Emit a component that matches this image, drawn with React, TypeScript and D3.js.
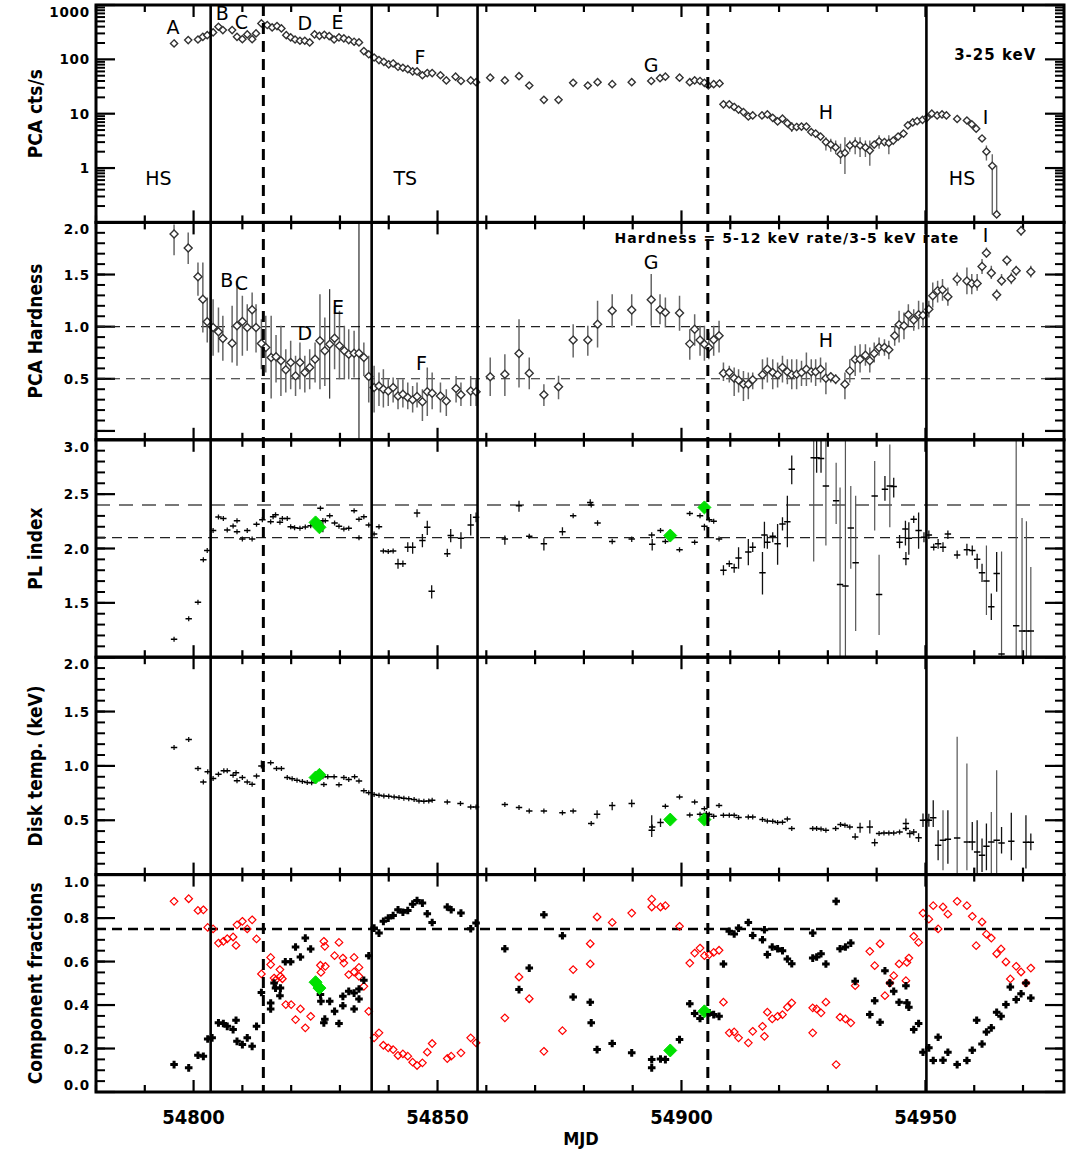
import React from 'react';
import * as d3 from 'd3';

// ---------- DATA ----------
// Panel 1: PCA count rate (3-25 keV) [MJD, cts/s]
const ctsRate: [number, number][] = [
  [54796.0,196],[54798.9,226],[54800.9,232],[54801.9,260],[54802.8,279],[54804.0,313],[54805.1,398],[54806.0,345],
  [54807.9,345],[54808.9,260],[54810.0,235],[54811.0,287],[54812.0,235],[54812.8,300],[54813.9,459],[54815.1,428],
  [54816.1,387],[54817.1,409],[54818.0,371],[54819.0,279],[54819.9,253],[54820.8,232],[54821.8,220],[54822.8,220],
  [54823.8,205],[54824.8,287],[54825.8,271],[54826.8,283],[54827.8,268],[54828.8,232],[54829.8,253],[54830.8,243],
  [54831.8,226],[54832.9,211],[54833.9,205],[54834.9,142],[54835.9,124],[54837.0,108],[54838.0,97],[54839.0,90],
  [54840.0,81],[54840.9,84],[54841.9,73],[54842.9,70],[54843.9,66],[54844.9,60],[54845.8,60],[54846.9,51],
  [54847.9,56],[54848.9,56],[54850.6,51],[54851.8,41],[54853.7,48],[54854.8,40],[54856.8,41],[54857.9,38],
  [54860.8,46],[54863.8,41],[54866.7,49],[54868.8,33],[54871.8,18],[54874.8,18],[54877.8,37],[54880.8,33],
  [54882.8,38],[54885.8,35],[54889.8,38],[54893.8,40],[54895.6,45],[54896.7,48],[54899.6,46],[54901.7,38],
  [54902.7,41],[54903.8,40],[54904.7,37],[54905.5,33],[54906.6,35],[54907.8,36],[54908.6,14.9],[54909.8,14.9],
  [54910.8,13.3],[54911.7,11.9],[54912.7,10.7],[54913.7,8.9],[54914.6,9.3],[54916.5,9.3],[54917.6,9.7],[54918.7,8.4],
  [54919.7,7.2],[54920.7,8.1],[54921.7,6.7],[54922.6,5.7],[54923.6,5.7],[54924.6,5.8],[54925.6,5.8],[54926.6,4.6],
  [54927.5,4.3],[54928.5,3.8],[54929.6,3.0],[54930.6,2.7],[54931.6,2.4],[54932.6,1.8],[54933.5,1.9],[54934.5,2.6],
  [54935.6,2.8],[54936.6,2.6],[54937.7,2.4],[54938.6,2.1],[54939.5,2.7],[54940.5,3.1],[54941.6,3.0],[54942.5,2.9],
  [54943.4,3.2],[54944.4,3.8],[54945.5,4.3],[54946.4,6.1],[54947.4,6.9],[54948.3,7.3],[54949.4,7.7],[54950.3,8.4],
  [54951.3,10],[54952.4,9.3],[54953.4,9.7],[54954.3,9.3],[54956.5,8.0],[54958.5,7.5],[54959.5,6.4],[54960.4,5.3],
  [54961.6,3.5],[54962.5,2.0],[54963.7,1.1],[54964.6,0.14],
];
// Panel 1 error bars [MJD, low, high]
const ctsErr: [number, number, number][] = [
  [54922.6,4.6,7.0],[54929.6,2.1,3.7],[54930.6,2.0,3.45],[54931.6,1.8,3.2],[54932.6,1.19,2.8],[54933.5,0.78,3.7],
  [54934.5,2.0,3.2],[54935.6,1.8,3.7],[54936.6,1.6,3.7],[54937.7,1.6,3.2],[54938.6,1.1,3.2],[54940.5,2.26,4.0],
  [54942.5,1.8,4.0],[54962.5,1.37,2.6],[54963.7,0.14,1.8],[54964.6,0.13,1.1],
];

// Panel 2: PCA hardness [MJD, value, low, high]
const hardness: [number, number, number, number][] = [
  [54796.0,1.888,1.686,1.98],[54798.9,1.754,1.60,1.904],[54800.9,1.479,1.296,1.616],[54801.9,1.264,0.944,1.616],
  [54802.8,1.047,0.848,1.28],[54804.0,0.992,0.72,1.264],[54805.1,0.951,0.752,1.184],[54806.0,0.887,0.672,1.104],
  [54807.9,0.842,0.656,1.2],[54808.9,1.008,0.624,1.44],[54810.0,1.05,0.72,1.296],[54811.0,0.992,0.768,1.216],
  [54812.0,1.162,0.992,1.328],[54812.8,0.992,0.752,1.216],[54813.9,0.839,0.592,1.072],[54814.8,0.80,0.56,1.104],
  [54815.9,0.704,0.31,1.104],[54816.9,0.711,0.464,0.92],[54817.9,0.672,0.336,1.008],[54818.9,0.586,0.368,0.784],
  [54819.9,0.656,0.40,0.864],[54820.9,0.528,0.336,0.72],[54821.8,0.656,0.40,0.848],[54822.8,0.56,0.368,0.72],
  [54823.8,0.608,0.40,0.784],[54824.9,0.688,0.464,0.848],[54825.9,0.864,0.40,1.312],[54826.9,0.768,0.432,1.088],
  [54827.9,0.832,0.31,1.36],[54828.9,0.89,0.592,1.2],[54829.9,0.816,0.496,1.152],[54830.9,0.768,0.496,1.008],
  [54831.8,0.736,0.496,0.976],[54832.9,0.746,0.512,0.96],[54833.9,0.746,-0.3,2.3],[54834.9,0.704,0.528,0.848],
  [54835.9,0.522,0.272,0.72],[54837.0,0.416,0.176,0.624],[54838.0,0.432,0.24,0.56],[54838.9,0.40,0.224,0.592],
  [54839.9,0.384,0.24,0.496],[54840.9,0.416,0.272,0.512],[54841.9,0.336,0.208,0.496],[54842.9,0.352,0.224,0.496],
  [54843.9,0.32,0.208,0.464],[54844.9,0.298,0.176,0.432],[54845.8,0.33,0.224,0.464],[54846.9,0.279,0.096,0.40],
  [54847.9,0.375,0.144,0.608],[54848.9,0.362,0.208,0.56],[54850.6,0.336,0.176,0.464],[54851.8,0.288,0.144,0.40],
  [54853.8,0.407,0.272,0.528],[54854.8,0.346,0.24,0.464],[54856.8,0.384,0.24,0.528],[54857.9,0.375,0.24,0.496],
  [54860.8,0.519,0.336,0.704],[54863.8,0.544,0.336,0.736],[54866.7,0.743,0.416,1.072],[54868.8,0.554,0.40,0.704],
  [54871.8,0.346,0.24,0.448],[54874.8,0.423,0.304,0.53],[54877.8,0.871,0.704,1.024],[54880.8,0.871,0.72,1.008],
  [54882.8,1.024,0.80,1.248],[54885.8,1.152,0.992,1.312],[54889.8,1.159,1.008,1.312],[54893.8,1.258,1.008,1.504],
  [54895.6,1.162,1.024,1.312],[54896.7,1.136,0.992,1.28],[54899.6,1.13,0.96,1.296],[54901.7,0.835,0.682,0.976],
  [54902.7,0.976,0.816,1.12],[54903.8,0.871,0.72,1.008],[54904.7,0.832,0.672,1.008],[54905.6,0.80,0.688,0.944],
  [54906.6,0.874,0.72,1.008],[54907.7,0.912,0.752,1.056],[54908.6,0.554,0.48,0.656],[54909.8,0.56,0.464,0.624],
  [54910.8,0.506,0.336,0.608],[54911.7,0.487,0.368,0.592],[54912.7,0.448,0.288,0.576],[54913.7,0.448,0.304,0.56],
  [54914.6,0.49,0.40,0.56],[54916.6,0.538,0.40,0.688],[54917.6,0.592,0.464,0.704],[54918.7,0.56,0.40,0.688],
  [54919.7,0.538,0.416,0.656],[54920.7,0.608,0.464,0.72],[54921.7,0.567,0.448,0.688],[54922.6,0.538,0.40,0.688],
  [54923.6,0.544,0.40,0.688],[54924.6,0.56,0.432,0.672],[54925.6,0.592,0.432,0.752],[54926.6,0.567,0.464,0.688],
  [54927.5,0.567,0.432,0.688],[54928.5,0.592,0.464,0.704],[54929.6,0.506,0.352,0.656],[54930.6,0.519,0.464,0.56],
  [54931.6,0.496,0.448,0.544],[54933.5,0.448,0.304,0.56],[54934.5,0.576,0.464,0.688],[54935.6,0.688,0.528,0.816],
  [54936.6,0.688,0.56,0.832],[54937.7,0.727,0.624,0.832],[54938.6,0.672,0.56,0.80],[54939.5,0.743,0.656,0.848],
  [54940.5,0.80,0.72,0.896],[54941.6,0.80,0.72,0.88],[54942.5,0.778,0.688,0.864],[54943.7,0.912,0.816,1.008],
  [54944.6,1.018,0.848,1.152],[54945.6,1.008,0.88,1.136],[54946.5,1.114,1.008,1.216],[54947.6,1.063,0.96,1.168],
  [54948.6,1.114,0.976,1.248],[54949.5,1.11,0.992,1.232],[54950.7,1.168,1.088,1.248],[54951.5,1.296,1.184,1.424],
  [54952.5,1.344,1.232,1.44],[54953.5,1.354,1.248,1.456],[54954.6,1.287,1.20,1.376],[54956.5,1.456,1.392,1.52],
  [54958.5,1.437,1.312,1.568],[54959.5,1.415,1.312,1.504],[54960.6,1.415,1.344,1.504],[54961.6,1.578,1.504,1.648],
  [54962.5,1.706,1.664,1.76],[54963.5,1.514,1.456,1.584],[54964.6,1.306,1.248,1.36],[54965.6,1.44,1.392,1.504],
  [54966.7,1.638,1.584,1.68],[54967.6,1.462,1.408,1.52],[54968.6,1.536,1.488,1.584],[54969.6,1.92,1.872,1.968],
  [54971.6,1.526,1.472,1.584],
];

// Panel 3: power-law index [MJD, value, low, high]
const plIndex: [number, number, number, number][] = [
  [54796.0,1.165,1.165,1.165],[54799.0,1.353,1.353,1.353],[54800.9,1.505,1.505,1.505],[54802.0,1.896,1.896,1.896],
  [54802.8,1.982,1.982,1.982],[54804.0,2.165,2.165,2.165],[54805.1,2.29,2.29,2.29],[54806.1,2.277,2.277,2.277],
  [54806.9,2.171,2.171,2.171],[54808.1,2.207,2.207,2.207],[54808.9,2.256,2.256,2.256],[54808.9,2.155,2.155,2.155],
  [54810.0,2.088,2.088,2.088],[54811.0,2.165,2.165,2.165],[54812.0,2.088,2.088,2.088],[54812.9,2.222,2.222,2.222],
  [54814.1,2.265,2.265,2.265],[54815.8,2.247,2.247,2.247],[54816.3,2.293,2.293,2.293],[54816.8,2.311,2.311,2.311],
  [54817.7,2.241,2.241,2.241],[54818.2,2.277,2.277,2.277],[54819.2,2.277,2.277,2.277],[54819.9,2.201,2.201,2.201],
  [54820.7,2.192,2.192,2.192],[54821.8,2.186,2.186,2.186],[54822.9,2.198,2.198,2.198],[54824.0,2.21,2.21,2.21],
  [54826.0,2.37,2.37,2.37],[54826.5,2.255,2.15,2.28],[54827.0,2.255,2.255,2.255],[54827.9,2.302,2.302,2.302],
  [54828.9,2.234,2.234,2.234],[54829.8,2.204,2.204,2.204],[54830.8,2.18,2.18,2.18],[54831.8,2.186,2.186,2.186],
  [54832.9,2.347,2.347,2.347],[54833.9,2.1,2.1,2.1],[54833.9,2.27,2.27,2.27],[54834.9,2.293,2.293,2.293],
  [54835.9,2.216,2.216,2.216],[54837.0,2.134,2.134,2.134],[54838.0,2.201,2.201,2.201],[54838.9,1.976,1.976,1.976],
  [54839.9,1.973,1.973,1.973],[54840.9,1.976,1.976,1.976],[54841.9,1.86,1.814,1.906],[54842.9,1.86,1.829,1.89],
  [54843.9,2.012,1.967,2.058],[54844.9,2.012,1.951,2.058],[54845.8,2.326,2.287,2.362],[54846.9,2.073,2.012,2.134],
  [54847.9,2.195,2.125,2.256],[54848.8,1.607,1.54,1.662],[54852.0,1.951,1.921,1.997],[54852.7,2.119,2.058,2.18],
  [54854.8,2.094,1.997,2.149],[54856.8,2.216,2.119,2.317],[54857.9,2.287,2.241,2.332],
  [54863.8,2.088,2.034,2.119],[54866.7,2.393,2.338,2.439],[54868.8,2.113,2.113,2.113],[54871.8,2.043,1.982,2.095],
  [54875.6,2.155,2.119,2.195],[54877.8,2.302,2.302,2.302],[54881.3,2.424,2.393,2.454],[54881.5,2.40,2.40,2.40],
  [54882.8,2.235,2.21,2.26],[54885.8,2.064,2.04,2.09],[54889.8,2.088,2.06,2.11],[54893.9,2.125,2.095,2.149],
  [54894.0,2.04,1.982,2.088],[54895.7,2.165,2.165,2.165],[54896.7,2.064,2.064,2.064],[54899.6,1.988,1.988,1.988],
  [54901.7,2.323,2.323,2.323],[54902.7,2.058,2.058,2.058],[54903.8,2.302,2.302,2.302],[54904.7,2.204,2.165,2.226],
  [54905.7,2.265,2.265,2.265],[54906.6,2.25,2.25,2.25],[54907.7,2.088,2.088,2.088],[54908.6,1.799,1.753,1.845],
  [54909.8,1.86,1.829,1.89],[54910.8,1.823,1.778,1.86],[54911.7,1.912,1.814,2.012],[54913.7,1.967,1.845,2.088],
  [54914.6,2.012,1.967,2.058],[54916.6,1.777,1.577,1.967],[54917.0,2.125,2.003,2.247],[54917.6,2.058,1.997,2.119],
  [54918.7,2.113,2.058,2.149],[54919.7,2.043,1.851,2.226],[54920.7,2.225,2.165,2.287],[54921.7,2.247,2.012,2.485],
  [54922.6,2.728,2.591,2.856],[54927.1,2.835,1.881,3.1],[54927.7,2.835,2.698,3.1],[54928.6,2.829,2.698,3.1],
  [54929.6,2.576,2.028,3.1],[54931.7,2.44,2.226,2.789],[54932.5,1.668,0.9,2.561],[54933.6,1.656,0.9,3.1],
  [54934.7,2.189,1.814,2.576],[54935.7,1.869,1.241,2.485],[54939.6,2.484,2.165,2.804],[54940.5,1.577,1.205,1.942],
  [54941.7,2.545,2.439,2.667],[54942.7,2.576,2.195,2.957],[54943.5,2.57,2.47,2.652],[54944.7,2.058,2.003,2.125],
  [54945.9,2.18,2.028,2.256],[54946.0,1.906,1.845,1.967],[54946.6,2.094,1.942,2.241],[54947.6,2.27,2.235,2.302],
  [54948.6,2.165,1.997,2.332],[54949.7,2.103,2.058,2.149],[54950.7,2.125,2.088,2.165],[54951.7,2.012,1.982,2.043],
  [54952.6,2.043,1.997,2.088],[54953.6,2.012,1.967,2.058],[54954.6,2.134,2.088,2.165],[54956.5,1.941,1.906,1.982],
  [54958.5,1.988,1.936,2.043],[54959.6,1.982,1.936,2.028],[54960.6,1.9,1.814,1.951],[54961.6,1.777,1.692,1.86],
  [54962.5,1.701,1.388,2.028],[54963.5,1.464,1.342,1.586],[54964.6,1.771,1.601,1.967],[54965.6,1.03,0.9,1.973],
  [54968.6,1.29,0.9,3.1],[54969.8,1.24,0.9,2.281],[54970.7,1.24,0.9,2.25],[54971.6,1.24,0.9,1.829],
];

// Panel 4: disk temperature (keV) [MJD, value, low, high]
const diskTemp: [number, number, number, number][] = [
  [54796.0,1.17,1.17,1.17],[54799.0,1.244,1.244,1.244],[54800.9,0.976,0.976,0.976],[54802.0,0.853,0.853,0.853],
  [54802.9,0.946,0.946,0.946],[54804.0,0.884,0.884,0.884],[54805.1,0.924,0.924,0.924],[54806.2,0.955,0.955,0.955],
  [54806.9,0.955,0.955,0.955],[54808.1,0.915,0.915,0.915],[54808.7,0.936,0.936,0.936],[54808.9,0.863,0.863,0.863],
  [54810.0,0.893,0.893,0.893],[54811.0,0.853,0.853,0.853],[54812.0,0.832,0.832,0.832],[54812.9,0.906,0.906,0.906],
  [54813.9,0.998,0.99,1.05],[54815.8,1.029,1.029,1.029],[54817.0,0.976,0.976,0.976],[54818.0,0.976,0.976,0.976],
  [54819.2,0.893,0.893,0.893],[54820.2,0.881,0.881,0.881],[54821.2,0.869,0.869,0.869],[54822.3,0.857,0.857,0.857],
  [54823.3,0.847,0.847,0.847],[54824.2,0.844,0.844,0.844],[54826.5,0.9,0.9,0.9],[54826.7,0.829,0.829,0.829],
  [54827.5,0.9,0.9,0.9],[54828.8,0.9,0.9,0.9],[54829.8,0.826,0.826,0.826],[54830.8,0.893,0.893,0.893],
  [54831.8,0.875,0.875,0.875],[54833.0,0.9,0.9,0.9],[54833.9,0.86,0.86,0.86],[54834.9,0.771,0.771,0.771],
  [54835.9,0.752,0.752,0.752],[54837.0,0.737,0.737,0.737],[54838.0,0.731,0.731,0.731],[54839.0,0.724,0.724,0.724],
  [54840.0,0.721,0.721,0.721],[54841.1,0.715,0.715,0.715],[54842.1,0.709,0.709,0.709],[54843.1,0.703,0.703,0.703],
  [54844.1,0.697,0.697,0.697],[54845.2,0.691,0.691,0.691],[54846.2,0.678,0.678,0.678],[54847.2,0.675,0.675,0.675],
  [54848.2,0.678,0.678,0.678],[54848.9,0.684,0.684,0.684],[54852.0,0.669,0.669,0.669],[54854.7,0.654,0.654,0.654],
  [54856.8,0.623,0.623,0.623],[54857.9,0.623,0.623,0.623],
  [54863.8,0.645,0.645,0.645],[54866.7,0.617,0.617,0.617],[54868.8,0.586,0.586,0.586],[54871.8,0.586,0.586,0.586],
  [54875.6,0.568,0.568,0.568],[54877.8,0.586,0.586,0.586],[54881.5,0.469,0.45,0.49],[54882.7,0.555,0.516,0.592],
  [54885.8,0.635,0.592,0.669],[54889.8,0.654,0.62,0.69],[54893.9,0.408,0.347,0.546],[54894.0,0.439,0.439,0.439],
  [54895.7,0.479,0.439,0.516],[54896.7,0.629,0.629,0.629],[54899.6,0.715,0.715,0.715],[54901.7,0.549,0.549,0.549],
  [54902.7,0.669,0.669,0.669],[54903.8,0.555,0.555,0.555],[54904.7,0.605,0.605,0.605],[54905.1,0.562,0.562,0.562],
  [54905.7,0.555,0.555,0.555],[54906.6,0.537,0.537,0.537],[54907.7,0.635,0.635,0.635],[54908.6,0.546,0.546,0.546],
  [54909.8,0.546,0.546,0.546],[54910.8,0.546,0.546,0.546],[54911.7,0.525,0.525,0.525],[54913.7,0.531,0.531,0.531],
  [54914.6,0.531,0.531,0.531],[54916.6,0.506,0.506,0.506],[54917.6,0.494,0.494,0.494],[54918.7,0.491,0.491,0.491],
  [54919.7,0.479,0.479,0.479],[54920.7,0.482,0.482,0.482],[54921.7,0.512,0.512,0.512],[54922.6,0.423,0.423,0.423],
  [54926.9,0.423,0.423,0.423],[54927.7,0.423,0.423,0.423],[54928.6,0.42,0.42,0.42],[54929.6,0.408,0.408,0.408],
  [54931.6,0.423,0.423,0.423],[54932.6,0.46,0.46,0.46],[54933.5,0.454,0.454,0.454],[54934.5,0.439,0.439,0.439],
  [54935.6,0.347,0.32,0.38],[54936.6,0.433,0.384,0.476],[54938.6,0.439,0.377,0.5],[54939.6,0.294,0.26,0.33],
  [54940.5,0.377,0.377,0.377],[54941.5,0.383,0.383,0.383],[54942.5,0.383,0.383,0.383],[54943.5,0.383,0.383,0.383],
  [54944.7,0.393,0.393,0.393],[54946.0,0.469,0.408,0.516],[54946.0,0.423,0.423,0.423],[54946.8,0.377,0.34,0.41],
  [54947.6,0.393,0.36,0.42],[54948.6,0.34,0.3,0.38],[54949.5,0.5,0.439,0.562],[54950.3,0.5,0.5,0.5],
  [54950.7,0.5,0.44,0.56],[54951.6,0.522,0.439,0.684],[54952.6,0.27,0.131,0.408],[54953.6,0.316,0.039,0.592],
  [54954.6,0.325,0.1,0.592],[54956.5,0.337,0.009,1.268],[54958.5,0.3,0.039,1.022],[54959.6,0.3,0.224,0.485],
  [54960.6,0.208,0.009,0.5],[54961.6,0.178,0.024,0.331],[54962.5,0.26,0.039,0.469],[54963.5,0.3,0.009,0.577],
  [54964.6,0.316,0.009,0.961],[54965.6,0.291,0.193,0.439],[54967.6,0.307,0.131,0.568],[54970.6,0.298,0.055,0.546],
  [54971.6,0.298,0.224,0.377],
];

// Panel 5: component fractions [MJD, fraction]
const fracDisk: [number, number][] = [ // red open diamonds
  [54796.0,0.877],[54799.0,0.889],[54800.9,0.835],[54802.0,0.838],[54802.9,0.757],[54804.0,0.75],[54805.1,0.685],
  [54806.1,0.693],[54806.9,0.705],[54808.1,0.713],[54808.7,0.674],[54808.9,0.769],[54810.0,0.785],[54811.0,0.75],
  [54812.0,0.792],[54812.9,0.704],[54813.9,0.543],[54815.8,0.619],[54815.8,0.586],[54816.5,0.524],[54816.8,0.514],
  [54817.7,0.563],[54817.8,0.532],[54818.2,0.521],[54818.9,0.402],[54820.0,0.402],[54820.9,0.333],[54821.9,0.382],
  [54822.9,0.295],[54824.0,0.348],[54826.0,0.583],[54826.1,0.55],[54826.7,0.693],[54826.9,0.67],[54827.0,0.578],
  [54828.9,0.627],[54829.8,0.688],[54830.6,0.616],[54830.8,0.593],[54831.8,0.54],[54832.9,0.619],[54832.9,0.552],
  [54833.9,0.573],[54833.9,0.532],[54834.9,0.486],[54835.9,0.371],[54837.0,0.249],[54838.0,0.272],[54838.9,0.215],
  [54839.9,0.203],[54840.9,0.195],[54841.9,0.168],[54842.9,0.175],[54843.9,0.165],[54844.9,0.137],[54845.8,0.122],
  [54846.9,0.134],[54847.9,0.183],[54848.9,0.223],[54852.0,0.154],[54852.8,0.165],[54854.8,0.18],[54856.8,0.249],
  [54857.9,0.226],
  [54863.8,0.341],[54866.7,0.529],[54868.8,0.429],[54871.8,0.187],[54875.6,0.282],[54877.8,0.563],[54881.3,0.682],
  [54881.3,0.589],[54882.7,0.805],[54885.8,0.78],[54889.8,0.823],[54893.9,0.887],[54893.9,0.851],[54895.7,0.851],
  [54896.7,0.857],[54899.6,0.762],[54901.7,0.593],[54902.7,0.639],[54903.8,0.662],[54904.7,0.627],[54905.7,0.632],
  [54906.6,0.642],[54907.7,0.652],[54908.6,0.413],[54909.8,0.272],[54910.8,0.276],[54911.7,0.249],[54913.7,0.226],
  [54914.6,0.279],[54916.6,0.302],[54917.0,0.256],[54917.6,0.367],[54918.6,0.336],[54919.7,0.348],[54920.7,0.356],
  [54921.7,0.39],[54922.6,0.41],[54926.9,0.272],[54926.9,0.387],[54927.7,0.382],[54928.6,0.364],[54929.6,0.413],
  [54931.7,0.126],[54932.5,0.344],[54933.6,0.336],[54934.7,0.318],[54935.6,0.489],[54938.6,0.647],[54939.6,0.581],
  [54940.7,0.682],[54941.7,0.443],[54942.7,0.501],[54943.5,0.535],[54944.6,0.589],[54946.0,0.512],[54946.2,0.596],
  [54946.6,0.616],[54947.6,0.716],[54948.6,0.688],[54949.5,0.823],[54950.7,0.795],[54951.6,0.857],[54952.6,0.75],
  [54953.6,0.851],[54954.6,0.818],[54956.5,0.877],[54958.5,0.857],[54959.6,0.808],[54960.4,0.673],[54961.6,0.782],
  [54962.5,0.726],[54963.5,0.708],[54964.6,0.636],[54965.5,0.658],[54966.5,0.598],[54967.4,0.52],[54968.6,0.578],
  [54969.6,0.552],[54970.6,0.501],[54971.6,0.57],
];
const fracPL: [number, number][] = [ // black crosses
  [54796.0,0.126],[54799.0,0.111],[54800.9,0.169],[54802.0,0.164],[54802.9,0.244],[54803.8,0.249],[54805.1,0.318],
  [54806.1,0.315],[54806.9,0.302],[54808.1,0.287],[54808.7,0.33],[54808.9,0.233],[54810.0,0.218],[54811.0,0.249],
  [54812.0,0.21],[54812.9,0.302],[54813.9,0.458],[54815.8,0.409],[54815.8,0.382],[54816.5,0.501],[54816.8,0.478],
  [54817.7,0.443],[54817.8,0.478],[54818.8,0.599],[54819.9,0.599],[54820.9,0.667],[54821.9,0.621],[54822.9,0.708],
  [54824.0,0.658],[54826.0,0.448],[54826.1,0.417],[54826.7,0.318],[54826.9,0.335],[54827.9,0.417],[54828.9,0.371],
  [54829.8,0.315],[54830.6,0.397],[54830.6,0.44],[54831.8,0.463],[54832.9,0.455],[54832.9,0.382],[54833.9,0.428],
  [54833.9,0.474],[54834.9,0.514],[54835.9,0.627],[54837.0,0.754],[54838.0,0.731],[54838.9,0.785],[54839.9,0.8],
  [54840.9,0.812],[54841.9,0.838],[54842.9,0.827],[54843.9,0.835],[54844.9,0.864],[54845.8,0.881],[54846.9,0.869],
  [54847.9,0.82],[54848.9,0.78],[54852.0,0.851],[54852.8,0.838],[54854.8,0.823],[54856.8,0.751],[54857.9,0.777],
  [54863.8,0.659],[54866.7,0.471],[54868.8,0.57],[54871.8,0.815],[54875.6,0.719],[54877.8,0.437],[54881.3,0.413],
  [54881.5,0.318],[54882.7,0.195],[54885.8,0.223],[54889.8,0.18],[54893.9,0.149],[54893.9,0.111],[54895.7,0.152],
  [54896.7,0.149],[54899.6,0.241],[54901.7,0.406],[54902.7,0.361],[54903.8,0.338],[54905.7,0.364],[54906.6,0.356],
  [54907.7,0.348],[54908.6,0.589],[54909.8,0.739],[54910.8,0.727],[54911.7,0.754],[54913.7,0.78],[54914.6,0.72],
  [54916.6,0.7],[54917.0,0.746],[54917.6,0.632],[54918.6,0.667],[54919.7,0.659],[54920.7,0.65],[54921.7,0.612],
  [54922.6,0.59],[54926.9,0.731],[54926.9,0.616],[54927.7,0.621],[54928.6,0.636],[54929.6,0.589],[54931.7,0.877],
  [54932.5,0.659],[54933.6,0.667],[54934.7,0.685],[54935.6,0.509],[54938.6,0.356],[54939.6,0.42],[54940.7,0.321],
  [54941.7,0.558],[54942.7,0.501],[54943.5,0.463],[54944.6,0.413],[54946.0,0.489],[54946.2,0.41],[54946.6,0.39],
  [54947.6,0.287],[54948.6,0.315],[54949.5,0.183],[54950.7,0.203],[54951.6,0.145],[54952.6,0.252],[54953.6,0.146],
  [54954.6,0.183],[54956.5,0.126],[54958.5,0.145],[54959.6,0.192],[54960.5,0.33],[54961.6,0.221],[54962.5,0.276],
  [54963.5,0.295],[54964.6,0.367],[54965.5,0.348],[54966.5,0.402],[54967.4,0.483],[54968.6,0.425],[54969.6,0.452],
  [54970.6,0.501],[54971.6,0.432],
];

// Green diamonds (special observations) [MJD, value]
const greenPL: [number, number][] = [[54825.0,2.24],[54825.8,2.195],[54897.7,2.119],[54904.7,2.378]];
const greenTemp: [number, number][] = [[54825.0,0.893],[54825.8,0.918],[54897.7,0.506],[54904.7,0.506]];
const greenFrac: [number, number][] = [[54825.0,0.505],[54825.8,0.478],[54897.7,0.191],[54904.7,0.371]];

// Transition markers (MJD)
const solidLines = [54803.5, 54836.5, 54858.2, 54950.2];
const dashedLines = [54814.3, 54905.4];

// Labels
const xTickValues = [54800, 54850, 54900, 54950];
const panelTitles = ['PCA cts/s', 'PCA Hardness', 'PL index', 'Disk temp. (keV)', 'Component fractions'];
const ctsLabels: [string, number, number][] = [
  ['A',54795.8,400],['B',54805.9,700],['C',54809.8,490],['D',54822.8,460],['E',54829.5,490],['F',54846.4,110],
  ['G',54893.8,79],['H',54929.6,10.9],['I',54962.3,8.8],['HS',54792.8,0.66],['TS',54843.4,0.66],['HS',54957.5,0.66],
];
const hardLabels: [string, number, number][] = [
  ['B',54806.8,1.448],['C',54809.8,1.416],['D',54822.8,0.939],['E',54829.6,1.19],['F',54846.7,0.652],
  ['G',54893.8,1.623],['H',54929.6,0.872],['I',54962.3,1.879],
];

// ---------- COMPONENT ----------
const X_LEFT = 96, X_RIGHT = 1064;
const TOPS = [5, 222.4, 439.8, 657.2, 874.6];
const PH = 217.4;
const TICKFONT = "'DejaVu Sans', sans-serif";
const NARROW = "'Liberation Sans Narrow', 'DejaVu Sans Condensed', sans-serif";

function diamond(cx: number, cy: number, s: number) {
  return `M${cx},${cy - s}L${cx + s},${cy}L${cx},${cy + s}L${cx - s},${cy}Z`;
}

export default function App() {
  const x = d3.scaleLinear().domain([54780, 54978.4]).range([X_LEFT, X_RIGHT]);
  const y1 = d3.scaleLog().domain([0.1, 1000]).range([TOPS[0] + PH, TOPS[0]]);
  const y2 = d3.scaleLinear().domain([-0.085, 2.0]).range([TOPS[1] + PH, TOPS[1]]);
  const y3 = d3.scaleLinear().domain([1.0, 3.0]).range([TOPS[2] + PH, TOPS[2]]);
  const y4 = d3.scaleLinear().domain([0, 2.0]).range([TOPS[3] + PH, TOPS[3]]);
  const y5 = d3.scaleLinear().domain([0, 1.0]).range([TOPS[4] + PH, TOPS[4]]);

  const xMinor = d3.range(54780, 54979, 10);

  const logMajor = [0.1, 1, 10, 100, 1000];
  const logMinor: number[] = [];
  [0.1, 1, 10, 100].forEach((d) => d3.range(2, 10).forEach((k) => logMinor.push(d * k)));

  type Axis = { scale: any; major: number[]; minor: number[]; labels: [number, string][] };
  const axes: Axis[] = [
    { scale: y1, major: logMajor, minor: logMinor, labels: [[1, '1'], [10, '10'], [100, '100'], [1000, '1000']] },
    { scale: y2, major: [0, 0.5, 1, 1.5, 2], minor: d3.range(0, 2.01, 0.1), labels: [[0.5, '0.5'], [1, '1.0'], [1.5, '1.5'], [2, '2.0']] },
    { scale: y3, major: [1, 1.5, 2, 2.5, 3], minor: d3.range(1, 3.01, 0.1), labels: [[1.5, '1.5'], [2, '2.0'], [2.5, '2.5'], [3, '3.0']] },
    { scale: y4, major: [0, 0.5, 1, 1.5, 2], minor: d3.range(0, 2.01, 0.1), labels: [[0.5, '0.5'], [1, '1.0'], [1.5, '1.5'], [2, '2.0']] },
    { scale: y5, major: [0, 0.2, 0.4, 0.6, 0.8, 1.0], minor: d3.range(0, 1.001, 0.05), labels: [[0, '0.0'], [0.2, '0.2'], [0.4, '0.4'], [0.6, '0.6'], [0.8, '0.8'], [1.0, '1.0']] },
  ];

  const elems: React.ReactNode[] = [];

  axes.forEach((ax, i) => {
    const top = TOPS[i], bot = top + PH;
    xMinor.forEach((t, j) => {
      const px = x(t);
      const len = t % 50 === 0 ? 12 : 7;
      elems.push(<line key={`xtb${i}-${j}`} x1={px} x2={px} y1={bot} y2={bot - len} stroke="#000" strokeWidth={2.2} />);
      elems.push(<line key={`xtt${i}-${j}`} x1={px} x2={px} y1={top} y2={top + len} stroke="#000" strokeWidth={2.2} />);
    });
    ax.minor.forEach((v, j) => {
      const py = ax.scale(v);
      if (py < top - 0.5 || py > bot + 0.5) return;
      elems.push(<line key={`ymn${i}-${j}`} x1={X_LEFT} x2={X_LEFT + 9} y1={py} y2={py} stroke="#000" strokeWidth={2} />);
      elems.push(<line key={`ymnr${i}-${j}`} x1={X_RIGHT} x2={X_RIGHT - 9} y1={py} y2={py} stroke="#000" strokeWidth={2} />);
    });
    ax.major.forEach((v, j) => {
      const py = ax.scale(v);
      if (py < top - 0.5 || py > bot + 0.5) return;
      elems.push(<line key={`ymj${i}-${j}`} x1={X_LEFT} x2={X_LEFT + 19} y1={py} y2={py} stroke="#000" strokeWidth={2.2} />);
      elems.push(<line key={`ymjr${i}-${j}`} x1={X_RIGHT} x2={X_RIGHT - 19} y1={py} y2={py} stroke="#000" strokeWidth={2.2} />);
    });
    ax.labels.forEach(([v, s], j) => {
      let py = ax.scale(v);
      if (Math.abs(py - top) < 2) py += 7;
      if (Math.abs(py - bot) < 2) py -= 7;
      elems.push(
        <text key={`yl${i}-${j}`} x={90} y={py} textAnchor="end" dominantBaseline="central"
          fontFamily={TICKFONT} fontWeight="bold" fontSize={13.5} letterSpacing={0.8}>{s}</text>
      );
    });
    elems.push(
      <text key={`yt${i}`} transform={`translate(35,${top + PH / 2}) rotate(-90)`} textAnchor="middle"
        dominantBaseline="central" fontFamily={NARROW} fontWeight="bold" fontSize={19}>{panelTitles[i]}</text>
    );
    elems.push(<clipPath key={`cp${i}`} id={`clip${i}`}><rect x={X_LEFT} y={top} width={X_RIGHT - X_LEFT} height={PH} /></clipPath>);
  });

  const hline = (key: string, yv: number, stroke: string, w: number, dash: string) => (
    <line key={key} x1={X_LEFT} x2={X_RIGHT} y1={yv} y2={yv} stroke={stroke} strokeWidth={w} strokeDasharray={dash} />
  );
  elems.push(hline('h21', y2(1.0), '#222', 1.1, '9 6'));
  elems.push(hline('h205', y2(0.5), '#222', 1.1, '9 6'));
  elems.push(hline('h324', y3(2.4), '#777', 1.8, '14 9'));
  elems.push(hline('h321', y3(2.1), '#222', 1.2, '10 6'));
  elems.push(hline('h5', y5(0.75), '#000', 2.5, '10 6'));

  const p1: React.ReactNode[] = [];
  ctsErr.forEach(([m, lo, hi], j) => {
    p1.push(<line key={`ce${j}`} x1={x(m)} x2={x(m)} y1={y1(lo)} y2={y1(hi)} stroke="#666" strokeWidth={1.4} />);
  });
  ctsRate.forEach(([m, v], j) => {
    p1.push(<path key={`c${j}`} d={diamond(x(m), y1(v), 3.6)} fill="#fff" stroke="#333" strokeWidth={1.4} />);
  });
  elems.push(<g key="p1" clipPath="url(#clip0)">{p1}</g>);

  const p2: React.ReactNode[] = [];
  hardness.forEach(([m, v, lo, hi], j) => {
    const strong = hi - lo > 1;
    p2.push(<line key={`he${j}`} x1={x(m)} x2={x(m)} y1={y2(lo)} y2={y2(hi)} stroke={strong ? '#000' : '#666'} strokeWidth={strong ? 1 : 1.5} />);
  });
  hardness.forEach(([m, v], j) => {
    p2.push(<path key={`h${j}`} d={diamond(x(m), y2(v), 4)} fill="#fff" stroke="#333" strokeWidth={1.4} />);
  });
  elems.push(<g key="p2" clipPath="url(#clip1)">{p2}</g>);

  const crossPanel = (data: [number, number, number, number][], ys: any, id: number, green: [number, number][]) => {
    const g: React.ReactNode[] = [];
    data.forEach(([m, v, lo, hi], j) => {
      const px = x(m), py = ys(v);
      const ylo = Math.max(ys(lo), py + 2.5), yhi = Math.min(ys(hi), py - 2.5);
      const long = ys(lo) - ys(hi) > 60;
      g.push(<line key={`ev${id}-${j}`} x1={px} x2={px} y1={ylo} y2={yhi} stroke={long ? '#555' : '#111'} strokeWidth={long ? 1.2 : 1.3} />);
      g.push(<line key={`eh${id}-${j}`} x1={px - 3.2} x2={px + 3.2} y1={py} y2={py} stroke="#000" strokeWidth={1.5} />);
    });
    green.forEach(([m, v], j) => {
      g.push(<path key={`g${id}-${j}`} d={diamond(x(m), ys(v), 6.5)} fill="#00e000" stroke="#00e000" strokeWidth={1} />);
    });
    return <g key={`p${id}`} clipPath={`url(#clip${id - 1})`}>{g}</g>;
  };
  elems.push(crossPanel(plIndex, y3, 3, greenPL));
  elems.push(crossPanel(diskTemp, y4, 4, greenTemp));

  const p5: React.ReactNode[] = [];
  fracDisk.forEach(([m, v], j) => {
    p5.push(<path key={`fr${j}`} d={diamond(x(m), y5(v), 3.8)} fill="none" stroke="#ff0000" strokeWidth={1.2} />);
  });
  fracPL.forEach(([m, v], j) => {
    const px = x(m), py = y5(v);
    p5.push(<path key={`fb${j}`} d={`M${px - 3.8},${py}H${px + 3.8}M${px},${py - 3.8}V${py + 3.8}`} stroke="#000" strokeWidth={3} />);
  });
  greenFrac.forEach(([m, v], j) => {
    p5.push(<path key={`fg${j}`} d={diamond(x(m), y5(v), 6.5)} fill="#00e000" stroke="#00e000" strokeWidth={1} />);
  });
  elems.push(<g key="p5" clipPath="url(#clip4)">{p5}</g>);

  const yTop = TOPS[0], yBot = TOPS[4] + PH;
  solidLines.forEach((m, j) => {
    elems.push(<line key={`vs${j}`} x1={x(m)} x2={x(m)} y1={yTop} y2={yBot} stroke="#000" strokeWidth={2.6} />);
  });
  dashedLines.forEach((m, j) => {
    elems.push(<line key={`vd${j}`} x1={x(m)} x2={x(m)} y1={yTop} y2={yBot} stroke="#000" strokeWidth={3} strokeDasharray="11 7" />);
  });

  TOPS.forEach((t, i) => {
    elems.push(<rect key={`frm${i}`} x={X_LEFT} y={t} width={X_RIGHT - X_LEFT} height={PH} fill="none" stroke="#000" strokeWidth={3} />);
  });

  ctsLabels.forEach(([s, m, v], j) => {
    elems.push(<text key={`cl${j}`} x={x(m)} y={y1(v)} textAnchor="middle" dominantBaseline="central"
      fontFamily={TICKFONT} fontSize={19}>{s}</text>);
  });
  hardLabels.forEach(([s, m, v], j) => {
    elems.push(<text key={`hl${j}`} x={x(m)} y={y2(v)} textAnchor="middle" dominantBaseline="central"
      fontFamily={TICKFONT} fontSize={19}>{s}</text>);
  });
  elems.push(<text key="band" x={x(54964.3)} y={y1(120)} textAnchor="middle" dominantBaseline="central"
    fontFamily={TICKFONT} fontWeight="bold" fontSize={15} letterSpacing={1}>3-25 keV</text>);
  elems.push(<text key="hdef" x={x(54921.6)} y={y2(1.848)} textAnchor="middle" dominantBaseline="central"
    fontFamily={TICKFONT} fontWeight="bold" fontSize={14} letterSpacing={1.1}>Hardness = 5-12 keV rate/3-5 keV rate</text>);

  xTickValues.forEach((t, j) => {
    elems.push(<text key={`xl${j}`} x={x(t)} y={1117} textAnchor="middle" dominantBaseline="central"
      fontFamily={NARROW} fontWeight="bold" fontSize={20}>{t}</text>);
  });
  elems.push(<text key="xtitle" x={(X_LEFT + X_RIGHT) / 2 + 1} y={1138} textAnchor="middle" dominantBaseline="central"
    fontFamily={NARROW} fontWeight="bold" fontSize={18}>MJD</text>);

  return (
    <svg width={1066} height={1150} style={{ position: 'absolute', left: 0, top: 0, background: '#fff' }}>
      <rect x={0} y={0} width={1066} height={1150} fill="#fff" />
      {elems}
    </svg>
  );
}
